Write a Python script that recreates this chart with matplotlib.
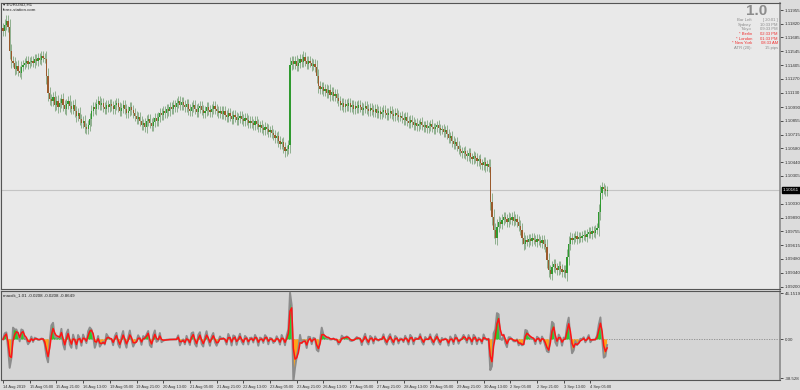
import numpy as np
import matplotlib.pyplot as plt

plt.rcParams['font.family'] = ['Liberation Sans', 'DejaVu Sans']

# -----------------------------
# EURUSD H1 closes, 14 Aug 2019 13:00 -> 4 Sep 2019 15:00
# -----------------------------
closes = [
    1.1175, 1.1181, 1.1185, 1.1179, 1.1155, 1.1145,
    1.1143, 1.1137, 1.1140, 1.1135, 1.1133, 1.1139, 1.1141,
    1.1143, 1.1145, 1.1142, 1.1144, 1.1145, 1.1143, 1.1147, 1.1145, 1.1148, 1.1146, 1.1150, 1.1148, 1.1147,
    1.1130, 1.1113, 1.1107,
    1.1105, 1.1109, 1.1101, 1.1105, 1.1099, 1.1103, 1.1107, 1.1101, 1.1097, 1.1102, 1.1105, 1.1100,
    1.1097, 1.1101, 1.1095, 1.1090, 1.1093, 1.1087, 1.1083, 1.1085, 1.1079, 1.1077, 1.1081, 1.1087,
    1.1095, 1.1099, 1.1097, 1.1102, 1.1105, 1.1101, 1.1103, 1.1099, 1.1097, 1.1101, 1.1099, 1.1102,
    1.1100, 1.1097, 1.1101, 1.1103, 1.1099, 1.1095, 1.1098, 1.1101, 1.1097, 1.1093, 1.1095, 1.1099,
    1.1096, 1.1093, 1.1090, 1.1087, 1.1089, 1.1085,
    1.1081, 1.1083, 1.1079, 1.1085, 1.1087, 1.1083, 1.1080, 1.1084, 1.1088, 1.1085, 1.1089, 1.1093, 1.1091,
    1.1095, 1.1093, 1.1097, 1.1095, 1.1099, 1.1097, 1.1101, 1.1099, 1.1103, 1.1105, 1.1101, 1.1104,
    1.1101, 1.1099, 1.1102, 1.1097, 1.1095, 1.1099, 1.1101, 1.1097, 1.1094, 1.1098, 1.1100, 1.1096,
    1.1093, 1.1095, 1.1099, 1.1096, 1.1094, 1.1097, 1.1100, 1.1097, 1.1095, 1.1093, 1.1095,
    1.1092, 1.1095, 1.1091, 1.1089, 1.1093, 1.1090, 1.1087, 1.1091, 1.1089, 1.1086, 1.1088, 1.1090,
    1.1087, 1.1085, 1.1088, 1.1086, 1.1083, 1.1085,
    1.1083, 1.1081, 1.1085, 1.1082, 1.1079, 1.1081, 1.1078, 1.1076, 1.1079, 1.1077, 1.1074, 1.1076, 1.1073,
    1.1071, 1.1068, 1.1070, 1.1065, 1.1062, 1.1064, 1.1059, 1.1055, 1.1057, 1.1061,
    1.1141, 1.1145,
    1.1142, 1.1145, 1.1140, 1.1143, 1.1147, 1.1144, 1.1149, 1.1145, 1.1142, 1.1145, 1.1143, 1.1140, 1.1142, 1.1139,
    1.1130, 1.1120, 1.1117, 1.1119, 1.1115, 1.1117, 1.1113, 1.1116, 1.1111, 1.1114, 1.1110, 1.1112, 1.1108,
    1.1105, 1.1101, 1.1103, 1.1099, 1.1102, 1.1100, 1.1103, 1.1099, 1.1101, 1.1097, 1.1100, 1.1098,
    1.1101, 1.1099, 1.1096, 1.1098, 1.1100, 1.1097, 1.1095, 1.1098,
    1.1096, 1.1094, 1.1097, 1.1093, 1.1095, 1.1092, 1.1094, 1.1096, 1.1093, 1.1091, 1.1093, 1.1095,
    1.1092, 1.1090, 1.1093, 1.1091, 1.1089, 1.1090,
    1.1088, 1.1086, 1.1089, 1.1085, 1.1083, 1.1086, 1.1084, 1.1081, 1.1083, 1.1080, 1.1082, 1.1084,
    1.1081, 1.1079, 1.1081, 1.1078, 1.1080, 1.1082, 1.1079, 1.1077, 1.1079, 1.1081, 1.1078, 1.1076,
    1.1077, 1.1074, 1.1076, 1.1072, 1.1068, 1.1070, 1.1065, 1.1062, 1.1064, 1.1060, 1.1057, 1.1055, 1.1053,
    1.1055, 1.1052, 1.1050, 1.1053, 1.1049, 1.1047, 1.1050, 1.1048, 1.1045, 1.1047, 1.1043, 1.1041,
    1.1044, 1.1040, 1.1042, 1.1039,
    1.1005, 1.0990, 1.0977, 1.0969, 1.0980, 1.0985, 1.0983,
    1.0987, 1.0990, 1.0988, 1.0985, 1.0989, 1.0987, 1.0990, 1.0986, 1.0988, 1.0985, 1.0981, 1.0977,
    1.0969, 1.0963, 1.0967, 1.0965, 1.0968, 1.0966, 1.0969, 1.0967, 1.0965, 1.0968, 1.0966, 1.0964,
    1.0967, 1.0963, 1.0960,
    1.0947, 1.0937, 1.0933, 1.0940, 1.0943, 1.0939, 1.0937, 1.0941, 1.0938, 1.0935, 1.0937, 1.0934,
    1.0950, 1.0963, 1.0969, 1.0967, 1.0969, 1.0971, 1.0968, 1.0970, 1.0969, 1.0971, 1.0972, 1.0970,
    1.0973, 1.0975, 1.0973, 1.0976, 1.0974, 1.0977, 1.0979,
    1.0995, 1.1013, 1.1019, 1.1017, 1.1015, 1.10161,
]

price_ticks = [1.11955, 1.11820, 1.11685, 1.11545, 1.11405, 1.11270, 1.11130,
               1.10990, 1.10855, 1.10715, 1.10580, 1.10440, 1.10305, 1.10030,
               1.09890, 1.09755, 1.09615, 1.09480, 1.09340, 1.09200]
last_price = 1.10161

time_labels = ["14 Aug 2019", "15 Aug 05:00", "15 Aug 21:00", "16 Aug 13:00",
               "19 Aug 05:00", "19 Aug 21:00", "20 Aug 13:00", "21 Aug 05:00",
               "21 Aug 21:00", "22 Aug 13:00", "23 Aug 05:00", "23 Aug 21:00",
               "26 Aug 13:00", "27 Aug 05:00", "27 Aug 21:00", "28 Aug 13:00",
               "29 Aug 05:00", "29 Aug 21:00", "30 Aug 13:00", "2 Sep 05:00",
               "2 Sep 21:00", "3 Sep 13:00", "4 Sep 05:00"]
label_step = 16  # bars between time labels

osc_ticks = [46.1519, 0.0, -38.528]
osc_tick_labels = ["46.1519", "0.00", "-38.528"]

info_names = ["Bar Left", "Sydney", "Tokyo", "* Berlin", "* London", "* New York", "ATR (20):"]
info_values = ["[ 20:01 ]", "10:33 PM", "09:33 PM", "02:33 PM", "01:33 PM", "08:33 AM", "15 pips"]
info_red = [False, False, False, True, True, True, False]

# -----------------------------
# candles
# -----------------------------
c = np.array(closes)
n = len(c)
x = np.arange(n)
o = np.r_[c[0] + 0.0003, c[:-1]]
body_abs = np.abs(c - o)
wick = np.minimum(0.0004 + 0.3 * body_abs, 0.0008)
hi = np.maximum(o, c) + wick
lo = np.minimum(o, c) - wick

# oscillator: 2-bar momentum, high-passed and soft-limited
mom = (c - np.r_[c[0], c[0], c[:-2]]) * 10000 / 2
ema = np.zeros(n)
for i in range(1, n):
    ema[i] = ema[i-1] + 0.5 * (mom[i] - ema[i-1])
raw = (mom - ema) * 4.0
osc = 50 * np.tanh(raw / 50)
sig = np.zeros(n)
for i in range(1, n):
    sig[i] = sig[i-1] + 0.55 * (osc[i] - sig[i-1])

# -----------------------------
# figure
# -----------------------------
W, H = 800, 390
fig = plt.figure(figsize=(8, 3.9), dpi=100, facecolor="#dcdcdc")

def fbox(x0, y0, x1, y1):
    return [x0 / W, 1 - y1 / H, (x1 - x0) / W, (y1 - y0) / H]

ax = fig.add_axes(fbox(1, 3, 780, 289), facecolor="#e9e9e9")
ax2 = fig.add_axes(fbox(1, 291, 780, 380), facecolor="#d5d5d5")

px_per_bar = 26.7 / 16
xmin = -2 / px_per_bar
xmax = xmin + 779 / px_per_bar

# price panel
ax.axhline(last_price, color="#c4c4c4", lw=0.8, zorder=1)
ax.vlines(x, lo, hi, color="#8fb08f", lw=0.7, zorder=2)
up = c >= o
body = np.where(body_abs < 0.00004, 0.00004, c - o)
ax.bar(x[up], body[up], bottom=o[up], width=0.7, color="#2f9a2f", zorder=3)
ax.bar(x[~up], body[~up], bottom=o[~up], width=0.7, color="#9a5a2c", zorder=3)
ax.set_xlim(xmin, xmax)
ax.set_ylim(1.0918, 1.12025)
ax.yaxis.tick_right()
ax.set_yticks(price_ticks)
ax.set_yticklabels([f"{p:.5f}" for p in price_ticks])
ax.tick_params(axis="y", length=2, width=0.6, labelsize=3.2, pad=1.2, colors="#333333")
ax.set_xticks([])
for s in ax.spines.values():
    s.set_color("#555555")
    s.set_linewidth(0.8)
ax.spines["right"].set_color("#8a8a8a")
ax.spines["right"].set_linewidth(1.2)
ax.text(783 / W, 1 - 190 / H, f"{last_price:.5f}", transform=fig.transFigure,
        fontsize=3.2, color="white", va="center", ha="left",
        bbox=dict(boxstyle="square,pad=0.2", fc="black", ec="black"))

# top-left labels
fig.text(3 / W, 1 - 5 / H, "\u25be EURUSD,H1", fontsize=3.2, color="#222222", va="center")
fig.text(3 / W, 1 - 10 / H, "forex-station.com", fontsize=3.2, color="#222222", va="center")

# top-right info block
fig.text(767 / W, 1 - 11 / H, "1.0", fontsize=11, color="#8c8c8c", weight="bold",
         ha="right", va="center")
for k, (nm, val, red) in enumerate(zip(info_names, info_values, info_red)):
    yy = 1 - (20 + 4.7 * k) / H
    col = "#f03030" if red else "#8a8a8a"
    fig.text(752 / W, yy, nm, fontsize=3.0, color=col, ha="right", va="center")
    fig.text(778 / W, yy, val, fontsize=3.0, color=col, ha="right", va="center")

# oscillator panel
ax2.axhline(0, color="#8a8a8a", lw=0.6, ls=(0, (1.5, 1.5)), zorder=1)
ax2.fill_between(x, 0, osc, where=osc >= 0, interpolate=True, color="#2ecc2e", lw=0, zorder=2)
ax2.fill_between(x, 0, osc, where=osc < 0, interpolate=True, color="#ffa31a", lw=0, zorder=2)
ax2.plot(x, osc, color="#8c8c8c", lw=1.4, zorder=3)
ax2.plot(x, sig, color="#ff1414", lw=1.1, zorder=4)
ax2.set_xlim(xmin, xmax)
ax2.set_ylim(-40.5, 48.2)
ax2.yaxis.tick_right()
ax2.set_yticks(osc_ticks)
ax2.set_yticklabels(osc_tick_labels)
ax2.tick_params(axis="y", length=2, width=0.6, labelsize=3.2, pad=1.2, colors="#333333")
tick_pos = np.arange(len(time_labels)) * label_step
ax2.set_xticks(tick_pos)
ax2.set_xticklabels(time_labels, ha="left")
ax2.tick_params(axis="x", length=2.5, width=0.6, labelsize=2.9, pad=1.2, colors="#333333")
for s in ax2.spines.values():
    s.set_color("#555555")
    s.set_linewidth(0.8)
ax2.spines["right"].set_color("#8a8a8a")
ax2.spines["right"].set_linewidth(1.2)
ax2.text(0.003, 0.97, "macdk_1.01 -0.0208 -0.0208 -0.8649", transform=ax2.transAxes,
         fontsize=3.2, color="#222222", va="top", ha="left")

fig.savefig("out.png", dpi=100, facecolor=fig.get_facecolor())
